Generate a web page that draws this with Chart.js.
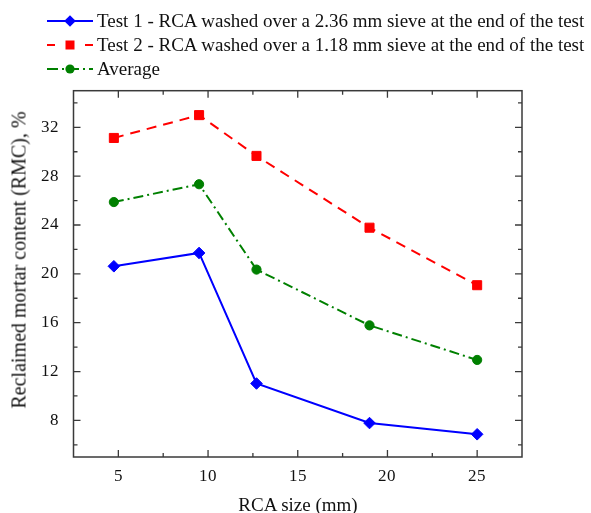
<!DOCTYPE html>
<html>
<head>
<meta charset="utf-8">
<script src="https://cdn.jsdelivr.net/npm/chart.js@4/dist/chart.umd.min.js"></script>
<style>
  html, body { margin: 0; padding: 0; background: #fff; }
  #wrap { position: relative; width: 591px; height: 513px; overflow: hidden; font-family: "Liberation Serif", "Times New Roman", serif; color: #111; }
  #chart_rmc { position: absolute; left: 0; top: 0; }
  #legend { position: absolute; left: 47px; top: 8.6px; font-size: 19px; line-height: 24px; }
  .row { display: flex; align-items: center; height: 24px; white-space: nowrap; }
  .row svg { margin-right: 4px; flex: none; }
  #ytitle { position: absolute; left: 19px; top: 259.5px; font-size: 20px; line-height: 19px; white-space: nowrap; transform: translate(-50%, -50%) rotate(-90deg); }
  #xtitle { position: absolute; left: 298px; top: 495px; font-size: 19px; line-height: 19px; white-space: nowrap; transform: translateX(-50%); }
</style>
</head>
<body>
<div id="wrap">
  <canvas id="chart_rmc" width="591" height="513"></canvas>
  <div id="legend"></div>
  <div id="ytitle">Reclaimed mortar content (RMC), %</div>
  <div id="xtitle">RCA size (mm)</div>
</div>
<script>
// RCA size (mm)
var rcaSize = [4.75, 9.5, 12.7, 19, 25];
// reclaimed mortar content, %
var test1 = [20.62, 21.71, 11.02, 7.78, 6.86];
var test2 = [31.13, 33.0, 29.66, 23.78, 19.07];
var average = [25.88, 27.34, 20.35, 15.78, 12.95];

var seriesNames = [
  "Test 1 - RCA washed over a 2.36 mm sieve at the end of the test",
  "Test 2 - RCA washed over a 1.18 mm sieve at the end of the test",
  "Average"
];

var xTicks = [5, 10, 15, 20, 25];
var yTicks = [8, 12, 16, 20, 24, 28, 32];

Chart.defaults.font.family = "TickSerif, 'Liberation Serif', 'DejaVu Serif', serif";
Chart.defaults.font.size = 17;
Chart.defaults.color = "#111";

function toPoints(xs, ys) {
  var pts = [];
  for (var i = 0; i < xs.length; i++) {
    pts.push({ x: xs[i], y: ys[i] });
  }
  return pts;
}

var styles = [
  { color: "#0000ff", dash: [], point: "rectRot", radius: 5.8 },
  { color: "#ff0000", dash: [10, 7], point: "rect", radius: 6.4 },
  { color: "#008000", dash: [10, 4, 2, 4], point: "circle", radius: 4.6 }
];
var seriesData = [test1, test2, average];

var datasets = [];
for (var s = 0; s < seriesData.length; s++) {
  datasets.push({
    label: seriesNames[s],
    data: toPoints(rcaSize, seriesData[s]),
    borderColor: styles[s].color,
    backgroundColor: styles[s].color,
    borderWidth: 2,
    borderDash: styles[s].dash,
    pointStyle: styles[s].point,
    pointRadius: styles[s].radius,
    pointBorderWidth: 1,
    tension: 0
  });
}

// frame + inward ticks on all four sides
var frameTicks = {
  id: "frameTicks",
  afterDraw: function (chart) {
    var ctx = chart.ctx;
    var a = chart.chartArea;
    var xs = chart.scales.x, ys = chart.scales.y;
    ctx.save();
    ctx.strokeStyle = "#3a3a3a";
    ctx.lineWidth = 1.5;
    ctx.strokeRect(a.left, a.top, a.right - a.left, a.bottom - a.top);
    ctx.lineWidth = 1.3;
    ctx.beginPath();
    // x: major every 5, minor in between
    for (var v = xs.min; v <= xs.max + 1e-9; v += 2.5) {
      var px = xs.getPixelForValue(v);
      if (px <= a.left + 1 || px >= a.right - 1) continue;
      var len = (v % 5 === 0) ? 7 : 4;
      ctx.moveTo(px, a.bottom); ctx.lineTo(px, a.bottom - len);
      ctx.moveTo(px, a.top); ctx.lineTo(px, a.top + len);
    }
    // y: major every 4, minor every 2
    for (var w = 6; w < ys.max; w += 2) {
      var py = ys.getPixelForValue(w);
      if (py <= a.top + 1 || py >= a.bottom - 1) continue;
      var l2 = (w % 4 === 0) ? 7 : 4;
      ctx.moveTo(a.left, py); ctx.lineTo(a.left + l2, py);
      ctx.moveTo(a.right, py); ctx.lineTo(a.right - l2, py);
    }
    ctx.stroke();
    ctx.restore();
  }
};

function drawChart() {
  return new Chart(document.getElementById("chart_rmc"), {
    type: "line",
    data: { datasets: datasets },
    options: {
      responsive: false,
      animation: false,
      layout: { padding: { left: 0, top: 90.7, right: 69, bottom: 0 } },
      plugins: { legend: { display: false }, tooltip: { enabled: false } },
      scales: {
        x: {
          type: "linear",
          min: 2.5,
          max: 27.5,
          afterBuildTicks: function (scale) {
            scale.ticks = xTicks.map(function (v) { return { value: v }; });
          },
          afterFit: function (scale) { scale.height = 56; },
          grid: { display: false, drawTicks: false },
          border: { display: false },
          ticks: { padding: 9, maxRotation: 0 }
        },
        y: {
          type: "linear",
          min: 5,
          max: 35,
          afterBuildTicks: function (scale) {
            scale.ticks = yTicks.map(function (v) { return { value: v }; });
          },
          afterFit: function (scale) { scale.width = 73.5; },
          grid: { display: false, drawTicks: false },
          border: { display: false },
          ticks: { padding: 15 }
        }
      }
    },
    plugins: [frameTicks]
  });
}

var rmcChart = drawChart();

// make sure the serif face is ready for the canvas, then redraw
try {
  var face = new FontFace("TickSerif", "local('Liberation Serif'), local('LiberationSerif'), local('LiberationSerif-Regular')");
  document.fonts.add(face);
  face.load().then(function () {
    rmcChart.destroy();
    rmcChart = drawChart();
  }).catch(function (e) { console.log(e); });
} catch (e) {
  console.log(e);
}

// legend with line samples
var legendSvgs = [
  '<line x1="0" y1="12" x2="46" y2="12" stroke="#0000ff" stroke-width="2"/>' +
    '<polygon points="23,6.2 28.8,12 23,17.8 17.2,12" fill="#0000ff"/>',
  '<line x1="0" y1="12" x2="46" y2="12" stroke="#ff0000" stroke-width="2" stroke-dasharray="8 11"/>' +
    '<rect x="18.5" y="7.5" width="9" height="9" fill="#ff0000"/>',
  '<line x1="0" y1="12" x2="46" y2="12" stroke="#008000" stroke-width="2" stroke-dasharray="11 4 2 4"/>' +
    '<circle cx="23" cy="12" r="4.6" fill="#008000"/>'
];
var legendBox = document.getElementById("legend");
for (var k = 0; k < seriesNames.length; k++) {
  var row = document.createElement("div");
  row.className = "row";
  row.innerHTML = '<svg width="46" height="24" viewBox="0 0 46 24">' + legendSvgs[k] + '</svg><span>' + seriesNames[k] + '</span>';
  legendBox.appendChild(row);
}
</script>
</body>
</html>
